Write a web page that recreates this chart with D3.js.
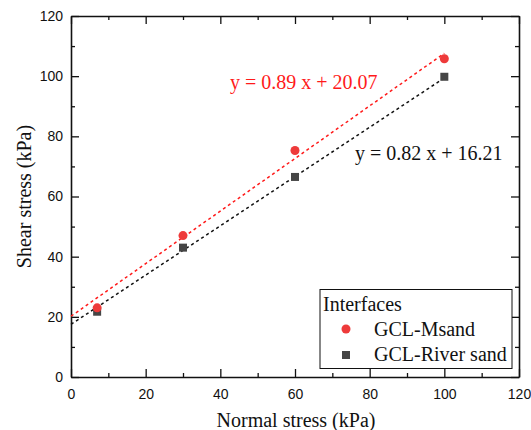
<!DOCTYPE html>
<html><head><meta charset="utf-8">
<script src="https://cdn.jsdelivr.net/npm/d3@7"></script>
<style>body{margin:0;background:#fff}
.sf{font-family:"Liberation Serif","Tinos","Times New Roman",Times,"DejaVu Serif",serif;font-size:20px}
.ss{font-family:"Liberation Sans",Arimo,Arial,Helvetica,sans-serif;font-size:14px}
</style>
</head><body>
<script>
const normalStress = [7, 30, 60, 100];
const msand = [23, 47, 75.3, 105.8];
const riverSand = [21.7, 43, 66.5, 99.8];
const fitX = [0, 100];
const msandFit = [20.2, 107.6];
const riverFit = [17.5, 99.4];
const eqMsand = "y = 0.89 x + 20.07";
const eqRiver = "y = 0.82 x + 16.21";
const xTicks = [0, 20, 40, 60, 80, 100, 120];
const yTicks = [0, 20, 40, 60, 80, 100, 120];
const seriesNames = ["GCL-Msand", "GCL-River sand"];
const legendTitle = "Interfaces";

const W = 531, H = 430;
const m = {l: 71, r: 12, t: 16, b: 53};
const redM = "#ee3a3a", greyM = "#454545";
const svg = d3.select("body").append("svg").attr("width", W).attr("height", H);
const x = d3.scaleLinear().domain([0, 120]).range([m.l, W - m.r]);
const y = d3.scaleLinear().domain([0, 120]).range([H - m.b, m.t]);
const minor = d3.range(10, 120, 20);

function styleAxis(g) {
  g.attr("font-family", null).attr("font-size", null);
  g.selectAll("path").attr("stroke", "#111").attr("stroke-width", 1.6);
  g.selectAll("line").attr("stroke", "#111").attr("stroke-width", 1.3);
  g.selectAll("text").attr("class", "ss").attr("fill", "#111");
}
// bottom
const gx = svg.append("g").attr("transform", `translate(0,${y(0)})`)
  .call(d3.axisBottom(x).tickValues(xTicks).tickSizeInner(-8).tickSizeOuter(0).tickPadding(10).tickFormat(d3.format("d")));
styleAxis(gx);
gx.selectAll("text").attr("dy", "0.71em").attr("y", 12);
svg.append("g").attr("transform", `translate(0,${y(0)})`)
  .call(d3.axisBottom(x).tickValues(minor).tickSize(-4).tickFormat("")).call(styleAxis).select("path").remove();
// top
const gt = svg.append("g").attr("transform", `translate(0,${y(120)})`)
  .call(d3.axisTop(x).tickValues(xTicks).tickSizeInner(-8).tickSizeOuter(0).tickFormat(""));
styleAxis(gt);
svg.append("g").attr("transform", `translate(0,${y(120)})`)
  .call(d3.axisTop(x).tickValues(minor).tickSize(-4).tickFormat("")).call(styleAxis).select("path").remove();
// left
const gy = svg.append("g").attr("transform", `translate(${x(0)},0)`)
  .call(d3.axisLeft(y).tickValues(yTicks).tickSizeInner(-8).tickSizeOuter(0).tickPadding(8).tickFormat(d3.format("d")));
styleAxis(gy);
gy.selectAll("text").attr("x", -8);
svg.append("g").attr("transform", `translate(${x(0)},0)`)
  .call(d3.axisLeft(y).tickValues(minor).tickSize(-4).tickFormat("")).call(styleAxis).select("path").remove();
// right
const gr = svg.append("g").attr("transform", `translate(${x(120)},0)`)
  .call(d3.axisRight(y).tickValues(yTicks).tickSizeInner(-8).tickSizeOuter(0).tickFormat(""));
styleAxis(gr);
svg.append("g").attr("transform", `translate(${x(120)},0)`)
  .call(d3.axisRight(y).tickValues(minor).tickSize(-4).tickFormat("")).call(styleAxis).select("path").remove();

// fit lines
const line = d3.line().x(d => x(d[0])).y(d => y(d[1]));
svg.append("path").datum(fitX.map((v, i) => [v, riverFit[i]])).attr("d", line)
  .attr("fill", "none").attr("stroke", "#111").attr("stroke-width", 1.5).attr("stroke-dasharray", "3,3");
svg.append("path").datum(fitX.map((v, i) => [v, msandFit[i]])).attr("d", line)
  .attr("fill", "none").attr("stroke", "#ff1a1a").attr("stroke-width", 1.5).attr("stroke-dasharray", "3,3");

// points
svg.append("g").selectAll("rect").data(normalStress).join("rect")
  .attr("x", (d) => x(d) - 4).attr("y", (d, i) => y(riverSand[i]) - 4)
  .attr("width", 8).attr("height", 8).attr("fill", greyM);
svg.append("g").selectAll("circle").data(normalStress).join("circle")
  .attr("cx", d => x(d)).attr("cy", (d, i) => y(msand[i])).attr("r", 4.5).attr("fill", redM);

function serifText(sel) { return sel.attr("class", "sf"); }
// equations
svg.append("text").attr("x", 230).attr("y", 89).call(serifText).attr("fill", "#ff1a1a").text(eqMsand);
svg.append("text").attr("x", 355).attr("y", 160).call(serifText).attr("fill", "#111").text(eqRiver);

// axis titles
svg.append("text").attr("x", (x(0) + x(120)) / 2 + 1).attr("y", 427).attr("text-anchor", "middle")
  .call(serifText).attr("fill", "#111").text("Normal stress (kPa)");
svg.append("text").attr("transform", `translate(31,${(y(0) + y(120)) / 2}) rotate(-90)`)
  .attr("text-anchor", "middle").call(serifText).attr("fill", "#111")
  .text("Shear stress (kPa)");

// legend
const lg = svg.append("g");
lg.append("rect").attr("x", 320).attr("y", 289.5).attr("width", 192).attr("height", 79)
  .attr("fill", "#fff").attr("stroke", "#111").attr("stroke-width", 1);
lg.append("text").attr("x", 323).attr("y", 310.5).call(serifText).attr("fill", "#111").text(legendTitle);
lg.append("circle").attr("cx", 346).attr("cy", 329).attr("r", 4.5).attr("fill", redM);
lg.append("rect").attr("x", 342).attr("y", 351).attr("width", 8).attr("height", 8).attr("fill", greyM);
seriesNames.forEach((n, i) => {
  lg.append("text").attr("x", 374).attr("y", 335.5 + i * 25).call(serifText).attr("fill", "#111").text(n);
});
</script>
</body></html>
